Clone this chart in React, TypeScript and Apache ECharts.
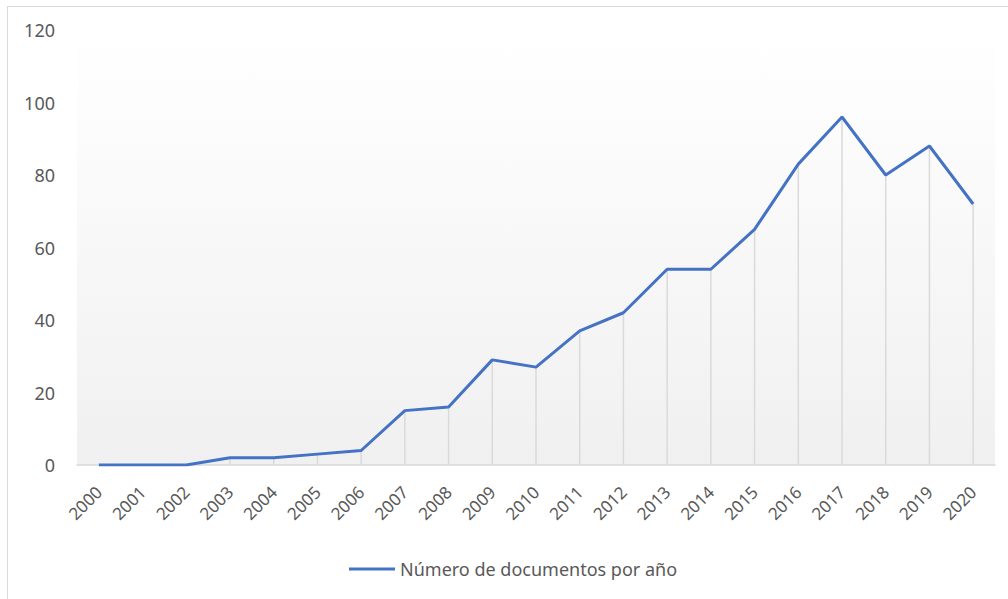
import React, { useEffect, useRef } from "react";
import * as echarts from "echarts";

const years = ["2000","2001","2002","2003","2004","2005","2006","2007","2008","2009","2010","2011","2012","2013","2014","2015","2016","2017","2018","2019","2020"];
const documents = [0, 0, 0, 2, 2, 3, 4, 15, 16, 29, 27, 37, 42, 54, 54, 65, 83, 96, 80, 88, 72];
const seriesName = "Número de documentos por año";

export default function App() {
  const ref = useRef<HTMLDivElement>(null);
  useEffect(() => {
    if (!ref.current) return;
    const chart = echarts.init(ref.current, undefined, { renderer: "svg" });
    const font = "'Noto Sans', 'Open Sans', sans-serif";
    chart.setOption({
      animation: false,
      backgroundColor: "#ffffff",
      grid: {
        left: 77,
        right: 13,
        top: 30,
        bottom: 134,
        show: true,
        borderWidth: 0,
        backgroundColor: new echarts.graphic.LinearGradient(0, 0, 0, 1, [
          { offset: 0, color: "#ffffff" },
          { offset: 0.15, color: "#fdfdfd" },
          { offset: 1, color: "#f0f0f0" },
        ]),
      },
      legend: {
        data: [seriesName],
        left: 344,
        top: 555,
        icon: "rect",
        itemWidth: 46,
        itemHeight: 3,
        itemGap: 6,
        textStyle: { color: "#595959", fontSize: 18, fontFamily: font },
      },
      xAxis: {
        type: "category",
        data: years,
        boundaryGap: true,
        axisLine: { show: true, lineStyle: { color: "#d9d9d9", width: 1.5 } },
        axisTick: { show: false },
        axisLabel: {
          rotate: 45,
          color: "#595959",
          fontSize: 17,
          fontFamily: font,
          margin: 24,
          interval: 0,
        },
        splitLine: { show: false },
      },
      yAxis: {
        type: "value",
        min: 0,
        max: 120,
        interval: 20,
        axisLine: { show: false },
        axisTick: { show: false },
        splitLine: { show: false },
        axisLabel: { color: "#595959", fontSize: 18, fontFamily: font, margin: 22 },
      },
      series: [
        {
          name: "drop",
          type: "bar",
          data: documents,
          barWidth: 1.5,
          itemStyle: { color: "#dadada" },
          silent: true,
          z: 1,
        },
        {
          name: seriesName,
          type: "line",
          data: documents,
          showSymbol: false,
          symbol: "none",
          lineStyle: { color: "#4472C4", width: 3 },
          itemStyle: { color: "#4472C4" },
          z: 3,
        },
      ],
    });
    return () => chart.dispose();
  }, []);
  return (
    <div style={{ position: "fixed", left: 0, top: 0, width: 1008, height: 599, background: "#fff" }}>
      <div ref={ref} style={{ position: "absolute", left: 0, top: 0, width: 1008, height: 599 }} />
      <div
        style={{
          position: "absolute",
          left: 7,
          top: 6,
          width: 1008,
          height: 599,
          border: "1.5px solid #d9d9d9",
          pointerEvents: "none",
        }}
      />
    </div>
  );
}
